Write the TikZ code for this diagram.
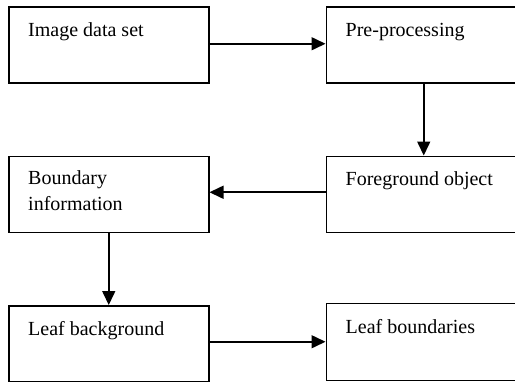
\documentclass[tikz,border=0pt]{standalone}
\usepackage{fontspec}
\setmainfont{Liberation Serif}
\usetikzlibrary{positioning,arrows.meta}

\tikzset{
    stage/.style={draw, line width=1.5pt, minimum width=200pt, minimum height=76pt},
    stagetext/.style={anchor=base west, inner sep=0pt, align=left,
        font=\fontsize{20}{26}\selectfont},
    flow/.style={line width=1.6pt, -{Triangle[length=14pt,width=13pt]}}
}

\begin{document}
\begin{tikzpicture}[x=1pt,y=-1pt]
    \useasboundingbox (0,0) rectangle (515,381);
    \node[stage, anchor=north west] (img) at (8,6) {};
    \node[stage, minimum width=196pt, right=116pt of img] (pre) {};
    \node[stage, minimum width=196pt, below=72pt of pre] (fg) {};
    \node[stage, left=116pt of fg] (bnd) {};
    \node[stage, below=72pt of bnd] (bg) {};
    \node[stage, minimum width=196pt, minimum height=77pt, right=116pt of bg, yshift=2pt] (lb) {};

    \node[stagetext] (imgtext) at ([shift={(20pt,-30pt)}]img.north west) {Image data set};
    \node[stagetext] (pretext) at ([shift={(20pt,-30pt)}]pre.north west) {Pre-processing};
    \node[stagetext] (fgtext) at ([shift={(20pt,-30pt)}]fg.north west) {Foreground object};
    \node[stagetext] (bndtext) at ([shift={(20pt,-55pt)}]bnd.north west) {Boundary\\information};
    \node[stagetext] (bgtext) at ([shift={(20pt,-30pt)}]bg.north west) {Leaf background};
    \node[stagetext] (lbtext) at ([shift={(20pt,-31pt)}]lb.north west) {Leaf boundaries};

    \draw[flow] ([yshift=1pt]img.east) -- ([yshift=1pt]pre.west);
    \draw[flow] ([xshift=-0.5pt]pre.south) -- ([xshift=-0.5pt]fg.north);
    \draw[flow] ([yshift=2pt]fg.west) -- ([yshift=2pt]bnd.east);
    \draw[flow] (bnd) -- (bg);
    \draw[flow] (bg.east |- lb.west) -- (lb.west);
\end{tikzpicture}
\end{document}
